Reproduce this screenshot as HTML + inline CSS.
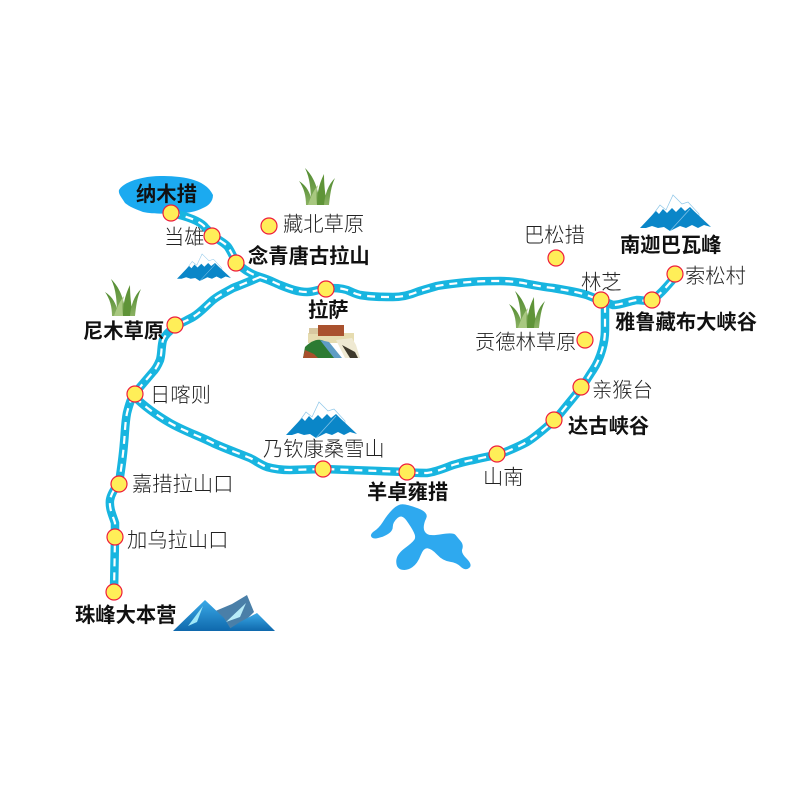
<!DOCTYPE html>
<html><head><meta charset="utf-8"><style>
html,body{margin:0;padding:0;background:#fff}
svg{display:block}
text{font-family:"Liberation Sans","Noto Sans CJK SC",sans-serif;font-size:20.3px;fill:#222;font-weight:300}
.b{font-weight:700;fill:#111}
</style></head><body>
<svg width="800" height="800" viewBox="0 0 800 800" xmlns="http://www.w3.org/2000/svg">
<defs>
<linearGradient id="gr" x1="0" y1="0" x2="0" y2="1"><stop offset="0" stop-color="#4f8a2e"/><stop offset="1" stop-color="#8cb264"/></linearGradient>
<linearGradient id="ev" x1="0" y1="0" x2="0" y2="1"><stop offset="0" stop-color="#3aaae8"/><stop offset="1" stop-color="#0f68ac"/></linearGradient>
<g id="snow">
<path d="M12 21 L20 10 L26 15 L33 0 L42 9 L48 7 L59 19 L59 25 L12 25Z" fill="#fff" stroke="#8cc6e8" stroke-width=".7"/>
<path d="M0 33 L16 16 L19 19 L23 14 L27 18 L32 13 L36 17 L41 12 L45 16 L50 12 L54 16 L71 32 L64 30 L58 33 L52 30 L46 33 L40 31 L30 36 L24 32 L18 33 L12 31 L6 33Z" fill="#0a86c8"/>
<path d="M30 36 L50 14" fill="none" stroke="#8cc6e8" stroke-width=".7"/>
</g>
<g id="grass">
<path d="M7 37 C7 28 5 20 0 13 C8 18 11 25 13 33 L13 37Z" fill="url(#gr)"/>
<path d="M12 37 C12 22 11 10 6 0 C14 8 19 18 21 37Z" fill="url(#gr)"/>
<path d="M18 37 C18 28 19 18 25 6 C25 16 26 26 28 37Z" fill="#5f9438"/>
<path d="M25 37 C26 26 29 17 36 10 C32 18 31 28 30 37Z" fill="url(#gr)"/>
<path d="M9 37 C12 28 15 22 19 17 C17 24 17 31 18 37Z" fill="#a8c880"/>
</g>
<g id="n"><circle r="8" fill="#ffee58" stroke="#ee1c3c" stroke-width="1.2"/></g>
<g id="roads">
<path d="M172 213 C185 216 198 220 204 226 C208 231 212 233 213 236 C220 241 225 243 228 247 C232 253 234 259 237 263 C243 269 250 274 260 277 C270 280 275 283 280 285 C290 289 298 292 307 292 C314 292 320 289 327 288 C335 288 341 288 347 290 C352 292 355 294 360 295 C372 297 382 297 393 297 C402 297 410 295 417 292 C423 290 430 288 437 286 C448 284 458 283 470 282 C480 281 490 281 500 281 C510 281 516 282 523 283 C533 285 543 287 553 288 C565 290 577 292 587 295 C592 297 597 299 602 301"/>
<path d="M260 277 C248 282 241 285 233 288 C226 292 219 295 213 300 C206 306 200 313 193 317 C186 321 180 323 175 327 C169 331 165 335 163 340 C161 347 162 353 160 360 C158 365 156 369 152 373 C146 380 141 386 135 393 C131 398 129 405 127 413 C125 423 125 433 124 443 C123 456 121 470 119 483 C115 488 111 494 110 500 C109 509 113 516 115 523 L115 537 L114 592"/>
<path d="M135 397 C146 408 158 416 170 423 C184 431 199 436 213 443 C226 449 238 453 250 458 C256 461 261 465 267 467 C274 469 282 470 290 470 L323 469 L407 472 C414 473 420 473 427 473 C436 472 445 468 453 465 C460 463 466 461 473 460 C481 458 490 456 498 455 C508 451 518 447 527 442 C537 436 546 427 555 420 C564 409 573 398 582 387 C586 381 589 376 593 370 C597 364 600 357 602 350 C604 343 605 337 605 330 L605 302"/>
<path d="M602 300 C606 302 609 304 613 305 C621 305 629 301 637 300 C642 300 647 302 652 300 C660 295 668 285 675 277"/>
</g>
</defs>

<!-- lakes -->
<path d="M119 190 C124 181 145 176 160 176 C180 176 205 178 213 195 C213 202 208 206 203 208 C195 212 188 213 180 213 C165 214 152 214 143 212 C135 209 130 207 125 203 C122 198 118 194 119 190Z" fill="#1baaf0"/>
<path d="M402.5 505 Q407 505 417.5 509 Q428 513 425.5 518 Q423 523 423 527.5 Q423 532 426.5 534.5 Q430 537 441.5 535 Q453 533 455 535.5 Q457 538 460 541.5 Q463 545 461.5 549 Q460 553 466 559 Q472 565 468.5 567.5 Q465 570 461 566 Q457 562 450 561 Q443 560 437.5 554 Q432 548 427.5 547.5 Q423 547 420 555 Q417 563 412 566.5 Q407 570 402 569 Q397 568 397 561.5 Q397 555 405 549 Q413 543 415 540 Q417 537 414.5 532 Q412 527 407 520 Q402 513 397 517.5 Q392 522 392 527 Q392 532 383.5 535.5 Q375 539 372.5 537 Q370 535 375 531.5 Q380 528 384 521.5 Q388 515 393 510 Q398 505 402.5 505Z" fill="#2ea9ef" stroke="#2ea9ef" stroke-width="1.5"/>

<!-- roads -->
<use href="#roads" fill="none" stroke="#18b5e0" stroke-width="8.5"/>
<use href="#roads" fill="none" stroke="#fff" stroke-width="2.2" stroke-dasharray="8 6"/>

<!-- mountains -->
<use href="#snow" x="640" y="195"/>
<use href="#snow" transform="translate(177 254) scale(.76 .75)"/>
<use href="#snow" transform="translate(286 402)"/>
<!-- grass -->
<use href="#grass" x="299" y="168"/>
<use href="#grass" x="105" y="279"/>
<use href="#grass" x="509" y="291"/>

<!-- Everest -->
<path d="M213 612 L232 604 L247 595 L254 612 L238 628 L222 630Z" fill="#4a7fa8"/>
<path d="M173 631 L205 600 L224 618 L232 631Z" fill="url(#ev)"/>
<path d="M188 626 L203 606 L197 622Z" fill="#9fe8f8"/>
<path d="M226 631 L240 622 L257 613 L275 631Z" fill="url(#ev)"/>
<path d="M226 622 L246 603 L240 617Z" fill="#b8ecf8"/>

<!-- Potala -->
<rect x="308" y="333" width="46" height="10" fill="#e6dcb0"/>
<rect x="318" y="325" width="26" height="11" fill="#a9512e"/>
<rect x="309" y="328" width="9" height="6" fill="#d8c8a0"/>
<path d="M303 358 L305 347 C312 340 322 336 328 345 L335 358Z" fill="#2c7a32"/>
<path d="M303 358 L305 350 L314 354 L318 358Z" fill="#a84f2c"/>
<path d="M320 340 L329 342 L342 358 L334 358Z" fill="#5e9cc4"/>
<path d="M336 340 L352 338 L356 345 L360 358 L345 358Z" fill="#efe9d2"/>
<path d="M342 345 L355 352 L358 358 L350 358Z" fill="#3f3a2c"/>

<!-- nodes -->
<use href="#n" x="171" y="213"/><use href="#n" x="212" y="236"/><use href="#n" x="236" y="263"/>
<use href="#n" x="269" y="226"/><use href="#n" x="326" y="289"/><use href="#n" x="175" y="325"/>
<use href="#n" x="135" y="394"/><use href="#n" x="119" y="484"/><use href="#n" x="115" y="537"/>
<use href="#n" x="114" y="592"/><use href="#n" x="323" y="469"/><use href="#n" x="407" y="472"/>
<use href="#n" x="497" y="454"/><use href="#n" x="554" y="420"/><use href="#n" x="581" y="387"/>
<use href="#n" x="585" y="340"/><use href="#n" x="601" y="300"/><use href="#n" x="652" y="300"/>
<use href="#n" x="675" y="274"/><use href="#n" x="556" y="258"/>

<!-- labels -->
<text class="b" x="136" y="201">纳木措</text>
<text x="164" y="244">当雄</text>
<text x="283" y="231">藏北草原</text>
<text class="b" x="248" y="263">念青唐古拉山</text>
<text class="b" x="308" y="317">拉萨</text>
<text class="b" x="83" y="338">尼木草原</text>
<text x="150" y="402">日喀则</text>
<text x="132" y="491">嘉措拉山口</text>
<text x="127" y="547">加乌拉山口</text>
<text class="b" x="75" y="622">珠峰大本营</text>
<text x="263" y="456">乃钦康桑雪山</text>
<text class="b" x="367" y="499">羊卓雍措</text>
<text x="483" y="484">山南</text>
<text class="b" x="568" y="433">达古峡谷</text>
<text x="592" y="397">亲猴台</text>
<text x="475" y="349">贡德林草原</text>
<text x="581" y="289">林芝</text>
<text class="b" x="615" y="329">雅鲁藏布大峡谷</text>
<text x="685" y="283">索松村</text>
<text x="524" y="242">巴松措</text>
<text class="b" x="620" y="252">南迦巴瓦峰</text>
</svg>
</body></html>
